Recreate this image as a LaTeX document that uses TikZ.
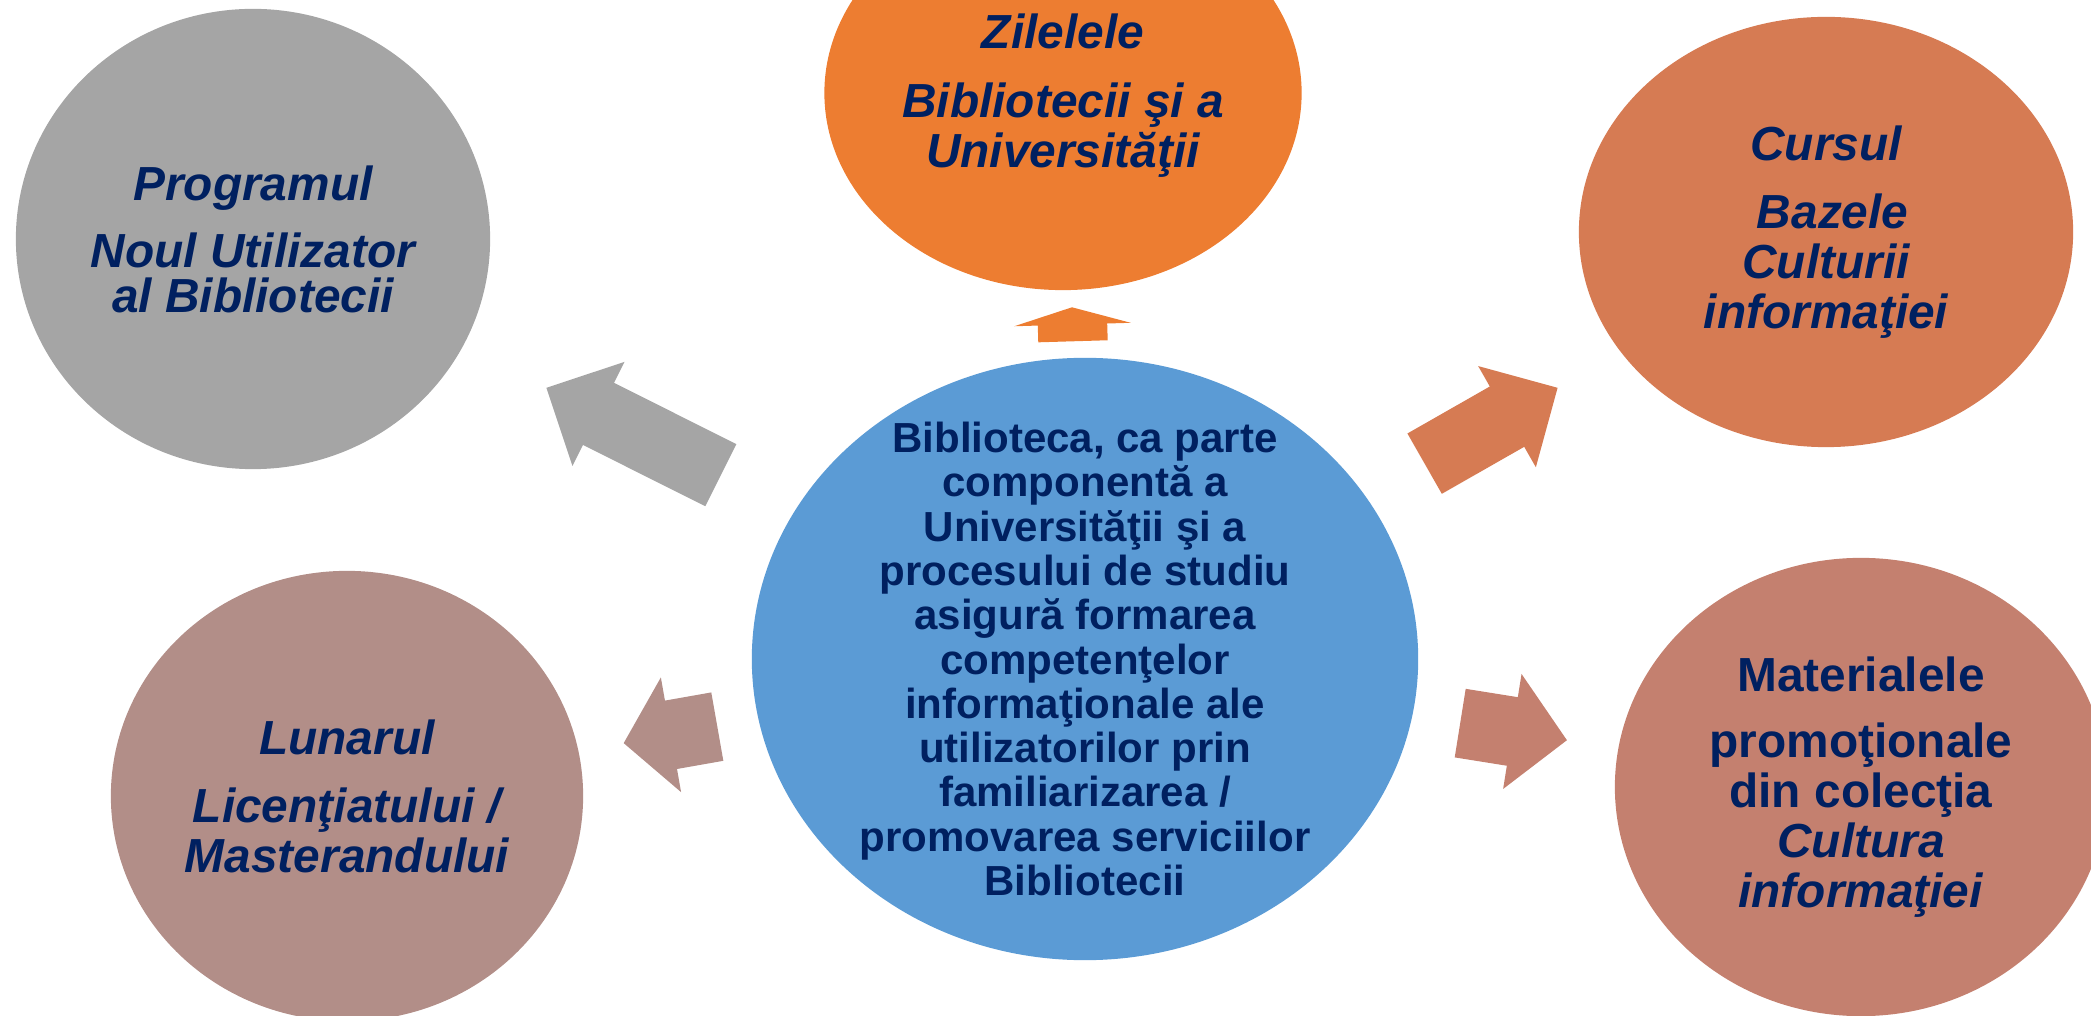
\documentclass[tikz,border=0pt]{standalone}
\usepackage{fontspec}
\setmainfont{Liberation Sans}
\usetikzlibrary{shapes.geometric,shapes.arrows}

\definecolor{navy}{HTML}{002060}
\definecolor{cgray}{HTML}{A5A5A5}
\definecolor{corange}{HTML}{ED7D31}
\definecolor{cterra}{HTML}{D67B53}
\definecolor{cblue}{HTML}{5B9BD5}
\definecolor{cmauve}{HTML}{B28E88}
\definecolor{crose}{HTML}{C4806F}

\tikzset{
  bubble/.style={ellipse,inner sep=0pt},
  bubbletext/.style={align=center,text=navy,inner sep=0pt,
    font=\fontsize{13.6}{14.2}\selectfont\bfseries\itshape},
  blockarrow/.style={single arrow,inner xsep=0pt,inner ysep=0.34cm,anchor=tail,
    single arrow head extend=0.235cm},
}

\begin{document}
\begin{tikzpicture}[x=0.01cm,y=-0.01cm]
\useasboundingbox (0,0) rectangle (2091,1016);
\clip (0,0) rectangle (2091,1016);
% bubbles
\node[bubble,fill=cgray,minimum width=4.74cm,minimum height=4.60cm] (prog) at (253,239) {};
\node[bubble,fill=corange,minimum width=4.77cm,minimum height=3.94cm] (zile) at (1063,93) {};
\node[bubble,fill=cterra,minimum width=4.94cm,minimum height=4.30cm] (curs) at (1826,232) {};
\node[bubble,fill=cblue,minimum width=6.66cm,minimum height=6.02cm] (centru) at (1085,659) {};
\node[bubble,fill=cmauve,minimum width=4.72cm,minimum height=4.50cm] (lunar) at (347,796) {};
\node[bubble,fill=crose,minimum width=4.92cm,minimum height=4.58cm] (mater) at (1861,787) {};
% texts
\node[bubbletext,font=\fontsize{13.6}{12.8}\selectfont\bfseries\itshape] (prog-txt) at (prog) {Programul\\[0.22cm] Noul Utilizator\\ al Bibliotecii};
\node[bubbletext] (zile-txt) at ([yshift=-0.03cm]zile) {Zilelele\\[0.19cm] Bibliotecii şi a\\ Universităţii};
\node[bubbletext] (curs-txt) at (curs) {Cursul\\[0.18cm] \ Bazele\\ Culturii\\ informaţiei};
\node[bubbletext] (lunar-txt) at (lunar) {Lunarul\\[0.18cm] Licenţiatului /\\ Masterandului};
\node[bubbletext,font=\fontsize{13.6}{14.2}\selectfont\bfseries] (mater-txt) at (mater)
  {Materialele\\[0.16cm] promoţionale\\ din colecţia\\ \textit{Cultura}\\ \textit{informaţiei}};
\node[bubbletext,font=\fontsize{11.95}{12.6}\selectfont\bfseries] (centru-txt) at (centru)
  {Biblioteca, ca parte\\ componentă a\\ Universităţii şi a\\ procesului de studiu\\
   asigură formarea\\ competenţelor\\ informaţionale ale\\ utilizatorilor prin\\
   familiarizarea /\\ promovarea serviciilor\\ Bibliotecii};
% arrows
\node[blockarrow,fill=cgray,rotate=153.4,minimum height=1.95cm,single arrow tip angle=90] (toprog) at (721.5,475.5) {};
\node[blockarrow,fill=corange,rotate=91.7,minimum height=0.34cm,single arrow tip angle=147] (tozile) at (1073,342) {};
\node[blockarrow,fill=cterra,rotate=29.7,minimum height=1.53cm,single arrow tip angle=90] (tocurs) at (1424,464) {};
\node[blockarrow,fill=cmauve,rotate=190,minimum height=0.95cm,single arrow tip angle=101] (tolunar) at (718,726.5) {};
\node[blockarrow,fill=crose,rotate=-9.1,minimum height=1.08cm,single arrow tip angle=93] (tomater) at (1459.5,723) {};
\end{tikzpicture}
\end{document}
